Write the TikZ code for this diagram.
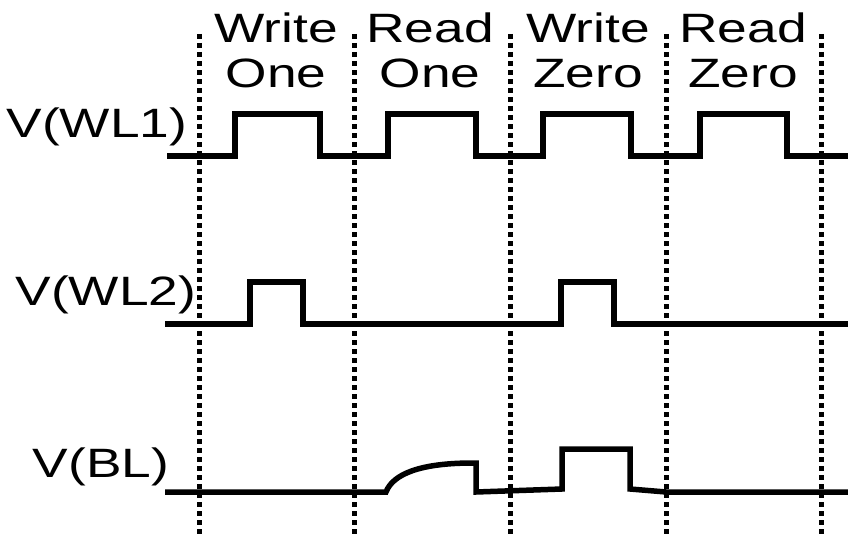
\documentclass[tikz,border=0pt]{standalone}
\usepackage{fontspec}
\setmainfont{Liberation Sans}
\newfontfamily\widefont[FakeStretch=1.3]{Liberation Sans}
\begin{document}
\begin{tikzpicture}[x=1pt,y=-1pt,
  sig/.style={line width=5.5pt, line join=miter},
  gridline/.style={line width=5pt, dash pattern=on 5pt off 4pt},
  lbl/.style={font=\widefont\fontsize{41}{46}\selectfont, inner sep=0pt, anchor=base}]
\useasboundingbox (0,0) rectangle (848,535);
% dotted separators
\foreach \x [count=\i] in {199,354,510,666,821} {
  \coordinate (t\i) at (\x,34);
  \coordinate (b\i) at (\x,535);
  \draw[gridline] (t\i) -- (b\i);
}
% header
\node[lbl] (h1a) at (276,42) {Write};
\node[lbl] (h1b) at (276,88) {One};
\node[lbl] (h2a) at (430,42) {Read};
\node[lbl] (h2b) at (430,88) {One};
\node[lbl] (h3a) at (588,42) {Write};
\node[lbl] (h3b) at (588,88) {Zero};
\node[lbl] (h4a) at (743,42) {Read};
\node[lbl] (h4b) at (743,88) {Zero};
% signal labels
\node[lbl] (l1) at (97,137) {V(WL1)};
\node[lbl] (l2) at (106,305) {V(WL2)};
\node[lbl] (l3) at (101,477) {V(BL)};
% WL1
\draw[sig] (167,156) -| (235,114) -| (320,156) -| (388,114) -| (476,156)
  -| (543,114) -| (631,156) -| (700,114) -| (787,156) -- (848,156);
% WL2
\draw[sig] (165,324) -| (250,282) -| (303,324) -| (561,282) -| (614,324) -- (848,324);
% BL
\draw[sig] (165,492) -- (386,492) .. controls (393,474) and (420,463) .. (473,463)
  -- (476,463) -- (476,492) -- (562,489) -- (562,449) -- (630,449) -- (630,489)
  -- (666,492) -- (848,492);
\end{tikzpicture}
\end{document}
